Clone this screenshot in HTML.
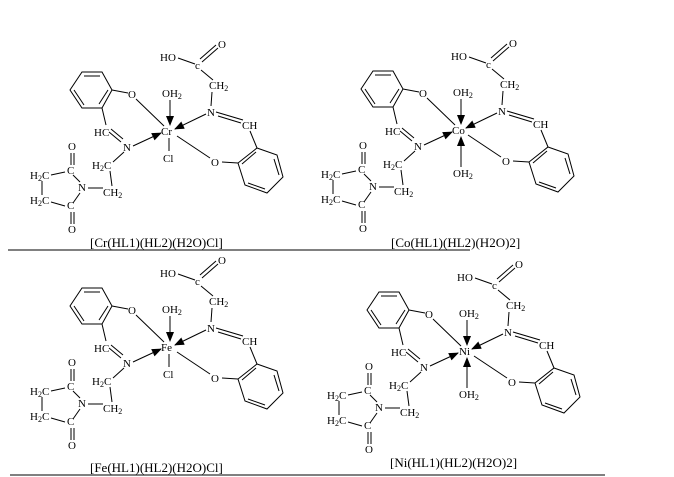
<!DOCTYPE html>
<html><head><meta charset="utf-8"><style>
html,body{margin:0;padding:0;background:#fff;}
svg{display:block;}
text{font-family:"Liberation Serif",serif;font-size:11px;fill:#000;}
text.lab{font-size:13px;}
</style></head><body>
<svg width="674" height="477" viewBox="0 0 674 477" xmlns="http://www.w3.org/2000/svg">
<defs>
<marker id="ah" markerWidth="10" markerHeight="8" refX="9" refY="4" orient="auto" markerUnits="userSpaceOnUse">
<path d="M0,0 L10,4 L0,8 Z" fill="#000"/>
</marker>
<g id="mol" stroke="#000" stroke-width="1" fill="none">
<line x1="178" y1="58" x2="195" y2="64"/>
<line x1="202" y1="62" x2="218" y2="48"/>
<line x1="200" y1="59" x2="216" y2="45"/>
<line x1="201" y1="70" x2="213" y2="80"/>
<line x1="212" y1="92" x2="211" y2="106"/>
<line x1="216" y1="112" x2="243" y2="120"/>
<line x1="218" y1="116" x2="241" y2="123"/>
<line x1="250" y1="131" x2="257" y2="148"/>
<polygon points="257,148 277,155 283,177 267,193 245,185 238,163"/>
<line x1="274" y1="159" x2="279" y2="175"/>
<line x1="265" y1="189" x2="248" y2="183"/>
<line x1="242" y1="164" x2="256" y2="152"/>
<line x1="238" y1="163" x2="222" y2="162"/>
<line x1="210" y1="158" x2="177" y2="136"/>
<polygon points="82,72 102,72 112,90 102,108 82,108 70,90"/>
<line x1="84" y1="76" x2="100" y2="76"/>
<line x1="74" y1="90" x2="84" y2="105"/>
<line x1="99" y1="104" x2="108" y2="90"/>
<line x1="112" y1="90" x2="128" y2="93"/>
<line x1="136" y1="99" x2="164" y2="126"/>
<line x1="102" y1="108" x2="106" y2="125"/>
<line x1="109" y1="132" x2="121" y2="142"/>
<line x1="111" y1="129" x2="123" y2="139"/>
<line x1="124" y1="152" x2="113" y2="162"/>
<line x1="110" y1="171" x2="112" y2="186"/>
<line x1="88" y1="188" x2="103" y2="188"/>
<line x1="80" y1="182" x2="73" y2="175"/>
<line x1="65" y1="172" x2="51" y2="175"/>
<line x1="42" y1="181" x2="42" y2="195"/>
<line x1="51" y1="202" x2="65" y2="206"/>
<line x1="73" y1="203" x2="80" y2="193"/>
<line x1="71" y1="165" x2="71" y2="153"/>
<line x1="74" y1="165" x2="74" y2="153"/>
<line x1="71" y1="212" x2="71" y2="224"/>
<line x1="74" y1="212" x2="74" y2="224"/>
<line x1="206" y1="114" x2="175" y2="129" marker-end="url(#ah)"/>
<line x1="133" y1="146" x2="161" y2="133" marker-end="url(#ah)"/>
<line x1="170" y1="100" x2="170" y2="125" marker-end="url(#ah)"/>
</g>
<g id="cl" stroke="#000" stroke-width="1"><line x1="169" y1="138" x2="169" y2="151"/></g>
<g id="ow" stroke="#000" stroke-width="1"><line x1="170" y1="168" x2="170" y2="138" marker-end="url(#ah)"/></g>
</defs>

<line x1="8" y1="250" x2="470" y2="250" stroke="#000" stroke-width="1"/>
<line x1="10" y1="475" x2="605" y2="475" stroke="#000" stroke-width="1"/>

<!-- Q1 -->
<g transform="translate(0,0)">
<use href="#mol"/><use href="#cl"/>
<text x="160" y="61">HO</text><text x="195" y="69" font-size="10">c</text><text x="218" y="48">O</text>
<text x="209" y="89">CH<tspan font-size="8" dy="2">2</tspan></text>
<text x="207" y="116">N</text><text x="242" y="129">CH</text>
<text x="161" y="135">Cr</text>
<text x="162" y="97">OH<tspan font-size="8" dy="2">2</tspan></text>
<text x="163" y="162">Cl</text>
<text x="128" y="98">O</text><text x="94" y="136">HC</text><text x="123" y="151">N</text>
<text x="92" y="169">H<tspan font-size="8" dy="2">2</tspan><tspan dy="-2">C</tspan></text>
<text x="103" y="196">CH<tspan font-size="8" dy="2">2</tspan></text>
<text x="78" y="191">N</text><text x="67" y="174">C</text><text x="68" y="150">O</text>
<text x="30" y="179">H<tspan font-size="8" dy="2">2</tspan><tspan dy="-2">C</tspan></text>
<text x="30" y="204">H<tspan font-size="8" dy="2">2</tspan><tspan dy="-2">C</tspan></text>
<text x="67" y="209">C</text><text x="68" y="233">O</text>
<text x="211" y="166">O</text>
<text class="lab" x="90" y="247">[Cr(HL1)(HL2)(H2O)Cl]</text>
</g>

<!-- Q2 -->
<g transform="translate(291,-1)">
<use href="#mol"/><use href="#ow"/>
<text x="160" y="61">HO</text><text x="195" y="69" font-size="10">c</text><text x="218" y="48">O</text>
<text x="209" y="89">CH<tspan font-size="8" dy="2">2</tspan></text>
<text x="207" y="116">N</text><text x="242" y="129">CH</text>
<text x="161" y="135">Co</text>
<text x="162" y="97">OH<tspan font-size="8" dy="2">2</tspan></text>
<text x="162" y="178">OH<tspan font-size="8" dy="2">2</tspan></text>
<text x="128" y="98">O</text><text x="94" y="136">HC</text><text x="123" y="151">N</text>
<text x="92" y="169">H<tspan font-size="8" dy="2">2</tspan><tspan dy="-2">C</tspan></text>
<text x="103" y="196">CH<tspan font-size="8" dy="2">2</tspan></text>
<text x="78" y="191">N</text><text x="67" y="174">C</text><text x="68" y="150">O</text>
<text x="30" y="179">H<tspan font-size="8" dy="2">2</tspan><tspan dy="-2">C</tspan></text>
<text x="30" y="204">H<tspan font-size="8" dy="2">2</tspan><tspan dy="-2">C</tspan></text>
<text x="67" y="209">C</text><text x="68" y="233">O</text>
<text x="211" y="166">O</text>
<text class="lab" x="100" y="248">[Co(HL1)(HL2)(H2O)2]</text>
</g>

<!-- Q3 -->
<g transform="translate(0,216)">
<use href="#mol"/><use href="#cl"/>
<text x="160" y="61">HO</text><text x="195" y="69" font-size="10">c</text><text x="218" y="48">O</text>
<text x="209" y="89">CH<tspan font-size="8" dy="2">2</tspan></text>
<text x="207" y="116">N</text><text x="242" y="129">CH</text>
<text x="161" y="135">Fe</text>
<text x="162" y="97">OH<tspan font-size="8" dy="2">2</tspan></text>
<text x="163" y="162">Cl</text>
<text x="128" y="98">O</text><text x="94" y="136">HC</text><text x="123" y="151">N</text>
<text x="92" y="169">H<tspan font-size="8" dy="2">2</tspan><tspan dy="-2">C</tspan></text>
<text x="103" y="196">CH<tspan font-size="8" dy="2">2</tspan></text>
<text x="78" y="191">N</text><text x="67" y="174">C</text><text x="68" y="150">O</text>
<text x="30" y="179">H<tspan font-size="8" dy="2">2</tspan><tspan dy="-2">C</tspan></text>
<text x="30" y="204">H<tspan font-size="8" dy="2">2</tspan><tspan dy="-2">C</tspan></text>
<text x="67" y="209">C</text><text x="68" y="233">O</text>
<text x="211" y="166">O</text>
<text class="lab" x="90" y="256">[Fe(HL1)(HL2)(H2O)Cl]</text>
</g>

<!-- Q4 -->
<g transform="translate(297,220)">
<use href="#mol"/><use href="#ow"/>
<text x="160" y="61">HO</text><text x="195" y="69" font-size="10">c</text><text x="218" y="48">O</text>
<text x="209" y="89">CH<tspan font-size="8" dy="2">2</tspan></text>
<text x="207" y="116">N</text><text x="242" y="129">CH</text>
<text x="162" y="135">Ni</text>
<text x="162" y="97">OH<tspan font-size="8" dy="2">2</tspan></text>
<text x="162" y="178">OH<tspan font-size="8" dy="2">2</tspan></text>
<text x="128" y="98">O</text><text x="94" y="136">HC</text><text x="123" y="151">N</text>
<text x="92" y="169">H<tspan font-size="8" dy="2">2</tspan><tspan dy="-2">C</tspan></text>
<text x="103" y="196">CH<tspan font-size="8" dy="2">2</tspan></text>
<text x="78" y="191">N</text><text x="67" y="174">C</text><text x="68" y="150">O</text>
<text x="30" y="179">H<tspan font-size="8" dy="2">2</tspan><tspan dy="-2">C</tspan></text>
<text x="30" y="204">H<tspan font-size="8" dy="2">2</tspan><tspan dy="-2">C</tspan></text>
<text x="67" y="209">C</text><text x="68" y="233">O</text>
<text x="211" y="166">O</text>
<text class="lab" x="93" y="247">[Ni(HL1)(HL2)(H2O)2]</text>
</g>
</svg>
</body></html>
